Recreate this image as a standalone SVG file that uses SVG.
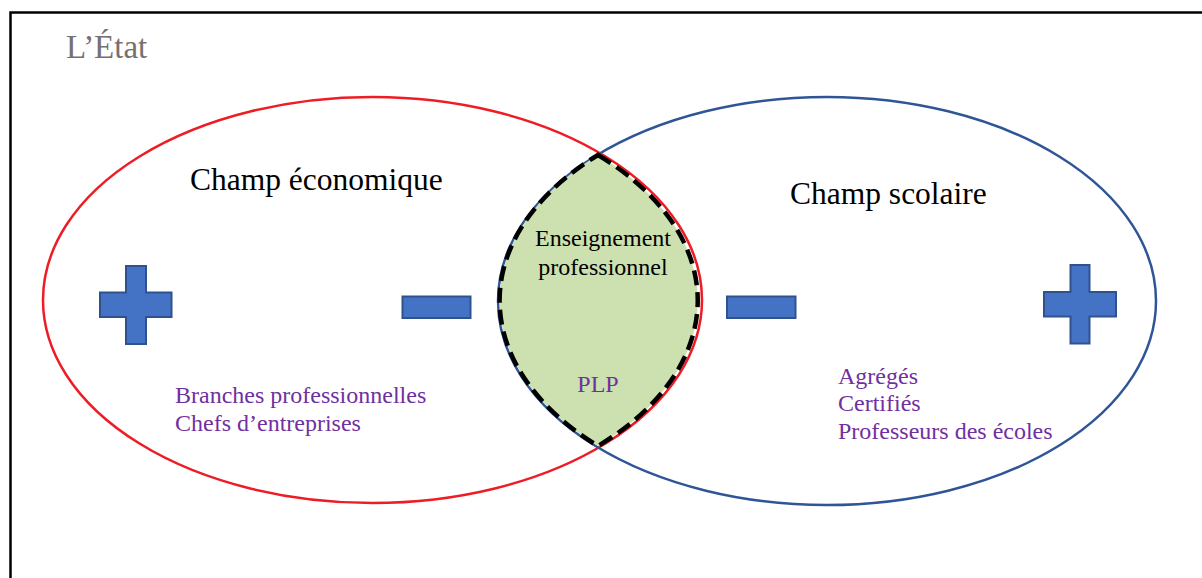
<svg xmlns="http://www.w3.org/2000/svg" width="1202" height="578" viewBox="0 0 1202 578">
<style>
text{font-family:"Liberation Serif","Times New Roman",serif}
.p{fill:#7030A0;font-size:24px}
.sign{fill:#4472C4;stroke:#2F528F;stroke-width:2}
</style>
<rect width="1202" height="578" fill="#fff"/>
<rect id="frame" x="10.5" y="12.5" width="1200" height="600" fill="none" stroke="#000" stroke-width="2.5"/>
<text font-family="Liberation Serif, serif" x="66" y="58" font-size="33" fill="#767171">L’État</text>
<g id="eco" font-family="Liberation Serif, serif">
<ellipse cx="372.5" cy="300" rx="329.5" ry="203" fill="none" stroke="#EE1C25" stroke-width="2.5"/>
<text x="190" y="190" font-size="31.5" fill="#000">Champ économique</text>
<text class="p" x="175" y="403">Branches professionnelles</text>
<text class="p" x="175" y="431">Chefs d’entreprises</text>
</g>
<g id="scol" font-family="Liberation Serif, serif">
<ellipse cx="827" cy="301" rx="329" ry="204" fill="none" stroke="#2F5597" stroke-width="2.5"/>
<text x="790" y="204" font-size="31.5" fill="#000">Champ scolaire</text>
<text class="p" x="838" y="384">Agrégés</text>
<text class="p" x="838" y="411">Certifiés</text>
<text class="p" x="838" y="439">Professeurs des écoles</text>
</g>
<g id="lens" font-family="Liberation Serif, serif">
<path d="M598,155 A329.5 203 0 0 1 598,446 A329 204 0 0 1 598,155 Z" fill="#CCE0B0" stroke="#000" stroke-width="4.5" stroke-dasharray="15 7"/>
<text x="603" y="246" font-size="24" fill="#000" text-anchor="middle">Enseignement</text>
<text x="603" y="275" font-size="24" fill="#000" text-anchor="middle">professionnel</text>
<text class="p" x="598" y="392" text-anchor="middle">PLP</text>
</g>
<g id="plus-left"><path class="sign" d="M126,266H146V292.5H171.5V317H146V344H126V317H100V292.5H126Z"/></g>
<g id="minus-left"><rect class="sign" x="402.5" y="296.5" width="68" height="21.5"/></g>
<g id="minus-right"><rect class="sign" x="727" y="296.5" width="68.5" height="21.5"/></g>
<g id="plus-right"><path class="sign" d="M1070.5,265H1089.5V292H1116V316.5H1089.5V343.5H1070.5V316.5H1044V292H1070.5Z"/></g>
<g id="connectors"/>
</svg>
